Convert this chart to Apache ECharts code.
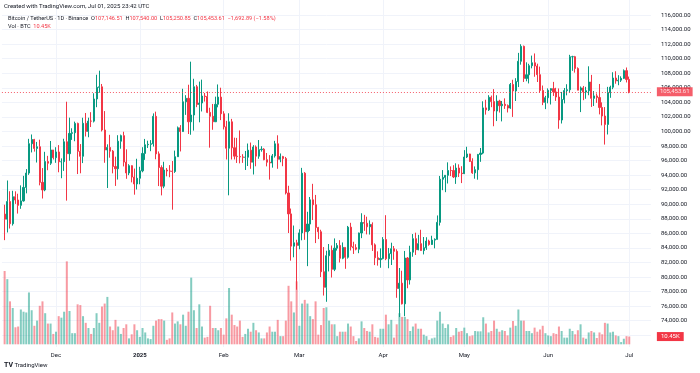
<!DOCTYPE html>
<html><head><meta charset="utf-8">
<script src="https://cdn.jsdelivr.net/npm/echarts@6/dist/echarts.min.js"></script>
<style>html,body{margin:0;padding:0;background:#fff}#c{width:700px;height:373px}</style>
</head><body><div id="c"></div>
<script>
// ---------------- DATA (BTC/USDT daily, Binance) ----------------
const firstDay = '2024-11-12';
const open = [
 88648,87952,90375,87325,91032,90587,89855,90465,92310,94286,98318,98893,97673,97901,93010,91965,95864,95643,97461,
 96407,97185,95840,95849,98587,96945,99740,99831,101109,97276,96593,101126,100004,101424,101420,104463,106058,106133,100204,97461,97805,97292,95186,94881,98663,99429,95792,94299,95300,93738,92792,
 93576,94591,96985,98174,98236,98314,102078,96923,95044,92485,94701,94567,94546,94500,96534,100505,99988,104078,104556,101331,102261,106144,103706,103910,104871,104797,102620,102083,101335,103734,104722,
 102429,100635,97700,101328,97763,96613,96555,96506,96444,96462,97430,95778,97870,96608,97500,97569,96118,95780,95671,96644,98305,96181,96555,96274,91552,88680,84250,84708,
 84349,86064,94269,86221,87281,90606,89931,86801,86222,80734,78596,82932,83681,81067,83968,84343,82580,84076,82718,86855,84168,84043,83832,86055,87498,87392,86909,87232,84424,82649,82390,
 82551,85159,82516,83213,83890,83537,78430,79163,76322,82615,79607,83423,85276,83760,84591,83643,84031,84947,84474,85077,85179,87516,93442,93691,93980,94638,94631,93755,94982,94286,
 94207,96492,96910,95891,94315,94749,96835,97034,103241,102971,104696,104106,102812,104169,103539,103745,103556,103219,106454,105574,106850,109643,111697,107288,107791,109035,109440,108994,107802,105641,103998,
 104638,105652,105882,105432,104732,101575,104390,105616,105734,110263,110274,108645,105671,105982,105414,105595,106794,104552,104886,104658,103297,102120,100964,105334,106083,107340,106947,107047,107296,108356,
 107146.51
];
const high = [
 89940,93265,91790,91850,91779,91449,92594,93905,94831,98988,99588,98984,98564,98871,94973,97208,96650,98693,97463,
 97836,98130,96305,99000,104088,101898,100439,101351,101215,98270,101888,102540,101895,102650,105250,107793,108353,106524,102800,98233,99540,97448,96538,99487,99569,99963,97544,95500,95350,94903,96250,
 95150,97839,98976,98734,98813,102482,102724,97258,95349,95837,94977,95378,95940,97372,100681,100873,105865,104988,106422,109588,107240,106394,106850,107120,105286,105500,103260,103783,104782,106457,106012,
 102783,101456,102500,101729,99149,99120,100137,96880,97323,98345,98478,98119,98083,98826,97972,97705,97046,96753,96899,98711,99475,96980,96650,96500,92540,89414,87078,85120,
 86558,95000,94416,88967,91000,92810,91283,86897,86500,84123,83617,84539,84336,85309,84672,85068,84756,84076,87024,87454,84850,84513,86107,88765,88542,88292,87786,87515,84624,83534,83943,
 85487,88500,83998,84720,84266,83817,81243,80867,83588,82753,84300,85905,86100,85799,86496,85500,85470,85132,85677,85320,88465,93888,94696,94000,95758,95199,95369,95630,95485,95228,
 97437,97895,96943,96318,95199,96920,97732,104145,104361,104984,104937,105819,104976,104353,104192,104550,103711,106660,107108,107320,110797,111980,111800,109500,109300,110422,110718,109313,108910,106313,104900,
 105918,105935,106813,105999,105909,105430,105972,106488,110530,110400,110384,108813,106179,106252,106128,108952,107771,105550,105226,106524,104000,103350,106128,106290,108135,108272,107735,107577,108528,108789,
 107540
];
const low = [
 85072,86127,86668,87073,90056,88723,89376,90357,91500,94040,97122,97233,95734,92600,90791,91792,94677,95407,96150,
 95693,94395,93578,94587,90500,95981,98844,98657,94150,94256,95658,99311,99205,100609,101237,103333,105321,100000,95700,92232,96398,94250,92520,93396,97632,95199,93500,94000,93009,91317,92033,
 92743,94392,96100,97735,97291,97926,96181,92500,91220,92206,93840,93712,89256,94310,96500,97256,99950,102277,99651,99550,100119,103339,101262,102750,104106,102520,97777,100233,101328,103321,101560,
 100279,96150,91231,96150,96155,95676,95620,95688,94713,95256,94876,94088,95217,96252,97224,96046,95205,93388,95029,96415,94871,95770,95227,91350,86050,82256,82716,78258,
 83824,85050,85117,81500,86334,87836,84667,85218,80000,77459,76606,80775,79939,80818,83639,82002,82457,81134,82536,83655,83175,83675,83282,85346,86346,85861,85837,83585,81644,81565,81279,
 82432,82320,81211,81659,82379,77153,74508,76239,74620,78464,78969,82792,83034,83678,83600,83111,83736,84303,84426,83949,85144,87076,91935,91660,92855,93870,93602,92800,93742,92910,
 94153,96350,95800,94172,93514,93377,95830,96876,102316,102818,103340,100718,101430,102602,101383,103100,102612,103106,102000,104184,106100,109177,106800,106892,106600,108670,107516,106795,105322,103621,103068,
 103870,103705,104880,104201,100372,101095,103863,104964,105318,108331,108086,105671,102664,104300,104494,104980,103371,103500,103929,102345,100837,98200,99588,104622,105808,106562,106356,106800,107205,106733,
 105250.85
];
const close = [
 87952,90375,87325,91032,90586,89855,90464,92310,94286,98318,98892,97672,97900,93010,91965,95863,95643,97460,96407,
 97185,95840,95849,98587,96945,99740,99831,101109,97276,96593,101125,100004,101424,101420,104463,106058,106133,100204,97461,97805,97291,95186,94881,98663,99429,95792,94299,95300,93738,92792,93576,
 94591,96984,98174,98236,98314,102078,96922,95043,92485,94701,94567,94545,94500,96534,100505,99988,104078,104557,101331,102260,106144,103706,103910,104871,104797,102620,102082,101335,103733,104722,102429,
 100636,97700,101328,97763,96613,96554,96506,96444,96462,97430,95778,97869,96608,97500,97570,96118,95780,95671,96644,98305,96181,96555,96274,91552,88680,84250,84708,84349,
 86064,94270,86220,87281,90606,89931,86801,86222,80734,78595,82932,83681,81067,83969,84343,82580,84076,82718,86855,84167,84043,83832,86055,87498,87392,86909,87232,84424,82648,82390,82550,
 85159,82516,83213,83889,83537,78430,79163,76322,82615,79607,83423,85276,83760,84591,83643,84030,84947,84474,85077,85179,87516,93442,93691,93980,94638,94630,93754,94982,94285,94207,
 96492,96910,95891,94315,94749,96835,97033,103241,102971,104696,104106,102812,104170,103539,103745,103556,103219,106455,105574,106850,109643,111697,107288,107791,109035,109440,108994,107802,105641,103998,104638,
 105652,105882,105432,104732,101575,104390,105616,105734,110263,110275,108645,105671,105982,105414,105595,106794,104552,104886,104658,103297,102120,100963,105334,106083,107340,106947,107047,107296,108356,107146.51,
 105453.61
];
const volume = [
 99000,88000,58000,49000,23000,24000,47000,44000,43000,70000,46000,25000,32000,52000,58000,42000,28000,28000,14000,
 17000,38000,36000,44000,112000,45000,15000,15000,54000,53000,38000,29000,22000,14000,22000,42000,29000,51000,55000,64000,24000,19000,33000,24000,14000,22000,27000,8000,13500,27000,19000,
 10000,22000,16000,8000,7000,25000,32000,34000,34000,32000,6000,8000,43000,28000,31000,27000,40000,25000,44000,90000,46000,22000,54000,24000,9000,10000,52000,22000,22000,19000,22000,
 13000,35000,76000,40000,26000,24000,32000,10000,14000,21000,17000,29000,19000,16000,8000,8000,16000,24000,17000,17000,33000,11000,11000,32000,79000,58000,43000,85000,
 25000,55000,60000,55000,38000,34000,58000,13000,26000,49000,50000,32000,27000,27000,11000,17000,17000,17000,28000,24000,11000,4500,8000,31000,22000,18000,17000,27000,10000,9000,21000,
 21000,40000,27000,33000,9000,27000,42000,37000,37000,34000,18000,24000,28000,21000,21000,13000,11000,6000,8000,9000,32000,44000,28000,22000,27000,10000,12000,22000,17000,18000,
 22500,15000,11000,12000,18000,17500,17500,36500,28000,16000,18000,32000,21000,17000,19000,18000,12000,22500,31500,25000,47000,32000,32000,18000,18000,15000,22500,17000,20000,25000,15000,
 12000,11000,15000,14000,24000,18000,9000,9000,21000,18000,13500,19000,27000,9000,7500,16000,18000,16000,8500,16000,13500,29000,28000,16000,17000,12000,11000,3000,7500,11000,
 10450
];
const monthTicks = ['2024-12-01','2025-01-01','2025-02-01','2025-03-01','2025-04-01','2025-05-01','2025-06-01','2025-07-01'];
const monthTickLabels = ['Dec','2025','Feb','Mar','Apr','May','Jun','Jul'];
const priceMin = 72000, priceMax = 116000, priceStep = 2000;
const volMax = 120600;
const lastPrice = 105453.61;
const lastVolume = 10450;

// ---------------- LAYOUT ----------------
const UP = '#089981', DOWN = '#F23645';
const UPV = 'rgba(8,153,129,0.5)', DOWNV = 'rgba(242,54,69,0.5)';
const GRIDC = '#f0f3fa', TXT = '#131722';
const FONT = 'Roboto, sans-serif';
const PAD_BEFORE = 1, PAD_AFTER = 8;
const STEP = 2.704, FIRST_X = 4.62;

const dates = [];
const t0 = Date.parse(firstDay + 'T00:00:00Z');
for (let i = -PAD_BEFORE; i < open.length + PAD_AFTER; i++) {
  dates.push(new Date(t0 + i * 86400000).toISOString().slice(0, 10));
}
const candleData = dates.map((d, i) => {
  const k = i - PAD_BEFORE;
  return (k >= 0 && k < open.length) ? [open[k], close[k], low[k], high[k]] : '-';
});
const volData = dates.map((d, i) => {
  const k = i - PAD_BEFORE;
  return (k >= 0 && k < volume.length) ? volume[k] : '-';
});
const gridLeft = FIRST_X - PAD_BEFORE * STEP;
const gridWidth = (dates.length - 1) * STEP;
const isMonth = (idx, val) => monthTicks.indexOf(val) >= 0;
const fmt2 = v => v.toLocaleString('en-US', {minimumFractionDigits: 2, maximumFractionDigits: 2});

const chart = echarts.init(document.getElementById('c'), null, {renderer: 'canvas'});
chart.setOption({
  animation: false,
  backgroundColor: '#ffffff',
  grid: [
    {left: gridLeft, width: gridWidth, top: 15, height: 320.3},
    {left: gridLeft, width: gridWidth, top: 0, height: 347},
    {left: gridLeft, width: gridWidth, top: 255, height: 89.3}
  ],
  xAxis: [
    {type: 'category', gridIndex: 0, data: dates, boundaryGap: false, show: false},
    {type: 'category', gridIndex: 1, data: dates, boundaryGap: false,
     axisLine: {show: false}, axisTick: {show: false},
     axisLabel: {interval: isMonth, margin: 5, fontSize: 6, fontFamily: FONT, color: TXT,
       formatter: v => { const j = monthTicks.indexOf(v); const s = monthTickLabels[j]; return /^\d+$/.test(s) ? '{b|' + s + '}' : s; },
       rich: {b: {fontWeight: 'bold', fontSize: 6, fontFamily: FONT, color: TXT}}},
     splitLine: {show: true, interval: isMonth, lineStyle: {color: GRIDC, width: 1}}},
    {type: 'category', gridIndex: 2, data: dates, boundaryGap: false, show: false}
  ],
  yAxis: [
    {type: 'value', gridIndex: 0, position: 'right', min: priceMin, max: priceMax, interval: priceStep,
     axisLine: {show: false}, axisTick: {show: false},
     axisLabel: {margin: 10, fontSize: 6, fontFamily: FONT, color: TXT, showMinLabel: false, formatter: v => fmt2(v)},
     splitLine: {show: true, lineStyle: {color: GRIDC, width: 1}}},
    {type: 'value', gridIndex: 1, show: false},
    {type: 'value', gridIndex: 2, min: 0, max: volMax, show: false}
  ],
  graphic: [
    {type: 'text', left: 4, top: 3, z: 100,
     style: {text: 'Created with TradingView.com, Jul 01, 2025 23:42 UTC', font: '6px ' + FONT, fill: TXT}},
    {type: 'text', left: 8, top: 16, z: 100,
     style: {text: 'Bitcoin / TetherUS · 1D · Binance  {k|O}{v|107,146.51}  {k|H}{v|107,540.00}  {k|L}{v|105,250.85}  {k|C}{v|105,453.61}  {v|−1,692.89 (−1.58%)}',
       font: '5.6px ' + FONT, fill: TXT,
       rich: {k: {fill: TXT, font: '5.6px ' + FONT}, v: {fill: DOWN, font: '5.6px ' + FONT}}}},
    {type: 'text', left: 8, top: 24, z: 100,
     style: {text: 'Vol · BTC  {v|10.45K}', font: '5.6px ' + FONT, fill: TXT,
       rich: {v: {fill: DOWN, font: '5.6px ' + FONT}}}},
    {type: 'text', left: 4, top: 362, z: 100,
     style: {text: '{l|TV} TradingView', font: '6px ' + FONT, fill: TXT,
       rich: {l: {font: 'bold 7px ' + FONT, fill: TXT}}}}
  ],
  series: [
    {type: 'bar', name: 'Vol', xAxisIndex: 2, yAxisIndex: 2, data: volData, barWidth: 2, z: 1,
     itemStyle: {color: p => { const k = p.dataIndex - PAD_BEFORE; return close[k] >= open[k] ? UPV : DOWNV; }},
     markLine: {silent: true, z: 20, symbol: ['none', 'none'], animation: false,
       lineStyle: {color: 'rgba(0,0,0,0)', width: 0, opacity: 1},
       label: {show: true, position: 'end', distance: 6, formatter: () => (lastVolume / 1000).toFixed(2) + 'K',
         backgroundColor: DOWN, color: '#ffffff', opacity: 1, fontSize: 6, fontFamily: FONT, padding: [2, 4, 1, 4]},
       data: [{yAxis: lastVolume}]}},
    {type: 'candlestick', name: 'BTCUSDT', xAxisIndex: 0, yAxisIndex: 0, data: candleData, barWidth: 1.6, z: 3,
     itemStyle: {color: UP, color0: DOWN, borderColor: UP, borderColor0: DOWN, borderWidth: 1},
     markLine: {silent: true, z: 20, symbol: ['none', 'none'], animation: false,
       lineStyle: {color: DOWN, type: [1, 2], width: 1, opacity: 0.8},
       label: {show: true, position: 'end', distance: 6, formatter: () => fmt2(lastPrice),
         backgroundColor: DOWN, color: '#fff', fontSize: 6, fontFamily: FONT, padding: [2, 3, 1, 3]},
       data: [{yAxis: lastPrice}]}}
  ]
});
</script>
</body></html>
